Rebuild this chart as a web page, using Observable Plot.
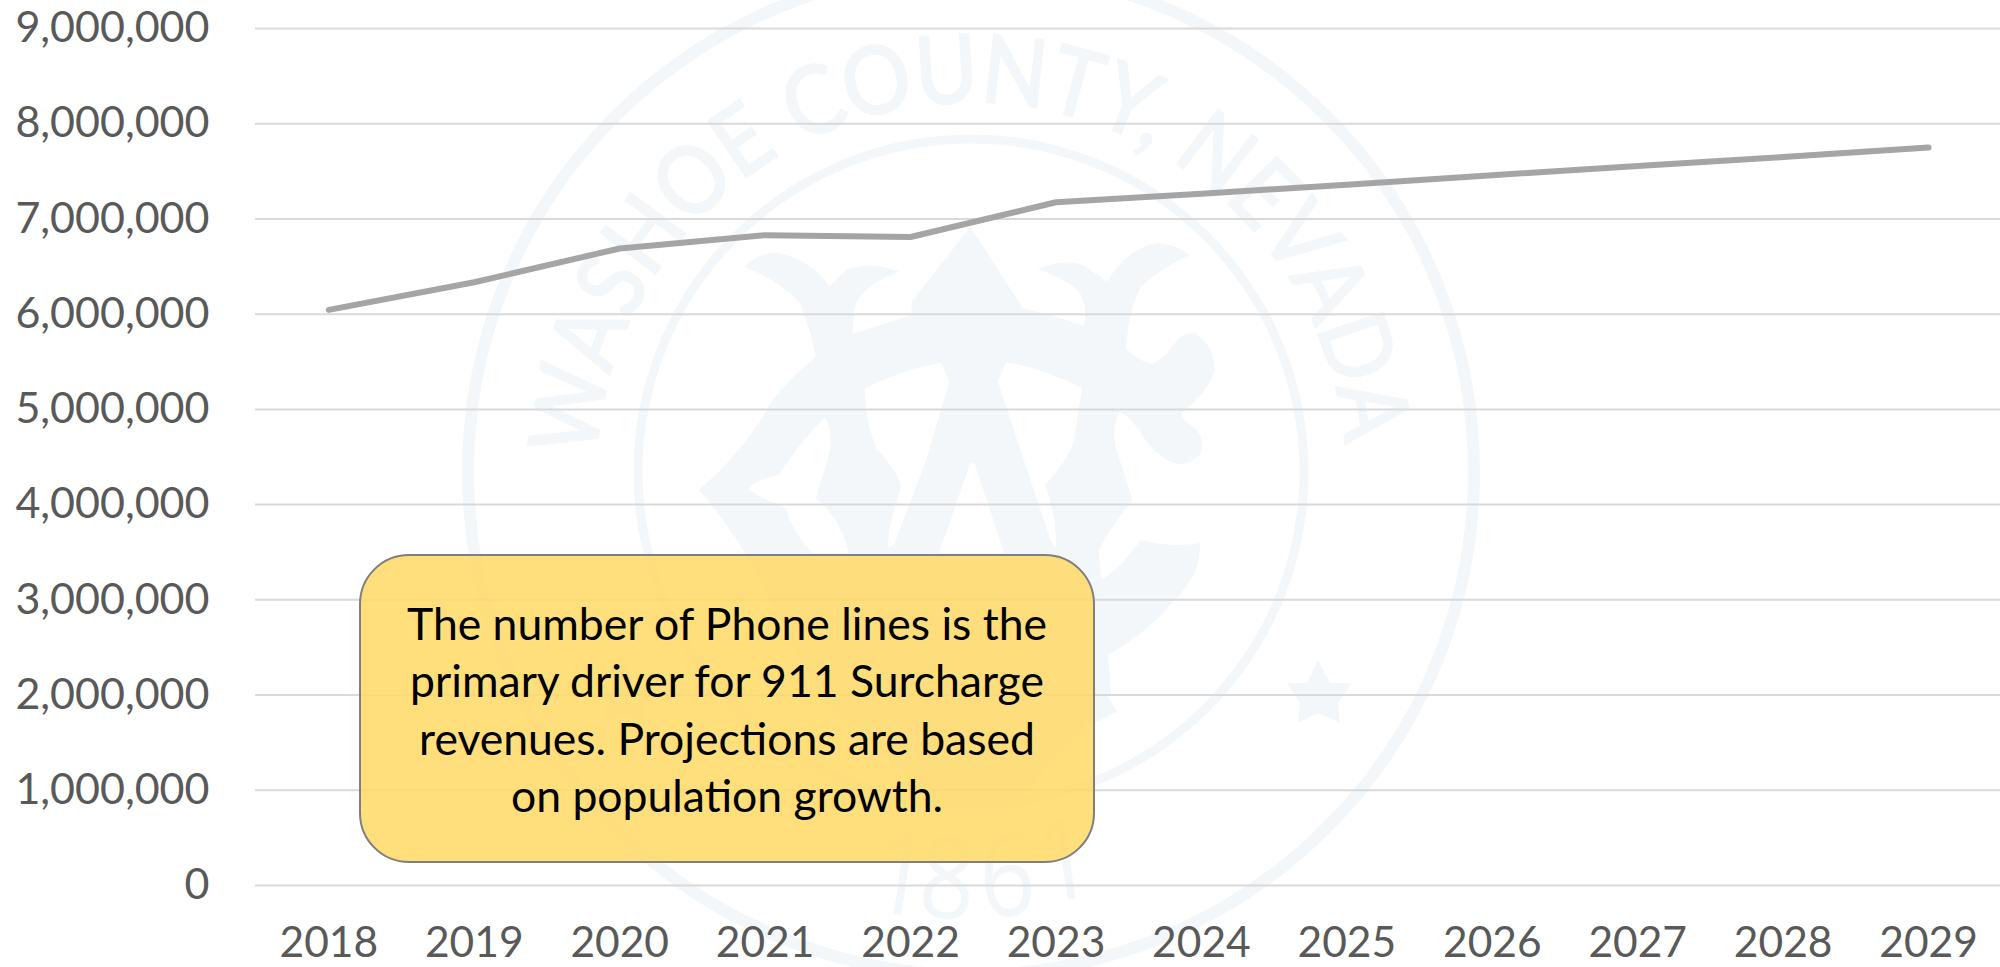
<!DOCTYPE html>
<html>
<head>
<meta charset="utf-8">
<script src="https://cdn.jsdelivr.net/npm/d3@7"></script>
<script src="https://cdn.jsdelivr.net/npm/@observablehq/plot@0.6"></script>
<style>
html,body{margin:0;padding:0;background:#fff;width:2000px;height:967px;overflow:hidden;}
#wrap{position:relative;width:2000px;height:967px;overflow:hidden;font-family:Lato,sans-serif;}
#seal{position:absolute;left:0;top:0;}
#chart{position:absolute;left:0;top:0;}
#chart svg{background:transparent;overflow:visible;}
#note{position:absolute;left:359px;top:554px;width:736px;height:309px;box-sizing:border-box;border:2px solid #7f7f7f;border-radius:50px;background:rgba(255,217,102,.86);color:#000;font:44.5px/57.4px Lato,sans-serif;text-align:center;padding-top:38px;}
</style>
</head>
<body>
<div id="wrap">
<svg id="seal" width="2000" height="967" viewBox="0 0 2000 967" fill="none">
  <defs>
    <path id="topArc" d="M 596.5 458 A 375 375 0 0 1 1345.5 458"/>
  </defs>
  <circle cx="971" cy="472" r="503" stroke="#f3f7fa" stroke-width="12"/>
  <circle cx="971" cy="472" r="333" stroke="#f3f7fa" stroke-width="9"/>
  <text font-family="Lato" font-size="94" fill="#f3f7fa" stroke="#f3f7fa" stroke-width="2.5"><textPath href="#topArc" textLength="1125" lengthAdjust="spacingAndGlyphs">WASHOE COUNTY, NEVADA</textPath></text>
  <text font-family="Open Sans" font-size="114" fill="#f3f7fa" transform="scale(.85,1)" x="1021 1079 1155 1226" y="908 916 918 905" rotate="10 4 -4 -10">1861</text>
  <g fill="#f3f7fa">
    <path d="M1318,660 L1330,683 L1352,683 L1338,703 L1340,723 L1318,713 L1298,723 L1300,703 L1287,683 L1307,683 Z"/>
    <path d="M624,660 L636,683 L658,683 L644,703 L646,723 L624,713 L604,723 L606,703 L593,683 L613,683 Z"/>
    <path transform="translate(640,220) scale(.4209,.3333)" fill-rule="evenodd" d="
      M785,20 L910,265 Q980,285 1055,318 Q1065,250 1040,210 Q1000,170 945,148 Q1010,110 1060,140 L1110,185 Q1160,80 1230,70 Q1280,75 1305,105 Q1230,150 1190,200 Q1160,270 1155,385 Q1180,420 1215,432 Q1245,420 1270,370 Q1290,335 1320,340 Q1365,380 1365,450 Q1355,510 1285,580 Q1290,605 1320,625 Q1345,660 1330,705 Q1300,740 1270,730 Q1225,710 1190,640 Q1165,590 1140,575 Q1120,620 1130,680 L1170,840 Q1130,900 1090,990
      L1100,1150 L1120,1420 L900,1740 L700,1740 L420,1420 L250,1000 Q190,880 140,810 Q250,690 310,550 Q350,480 418,410 L405,340 L380,250 Q330,180 248,140 Q270,105 320,98 Q400,110 450,200 L490,150 Q550,120 615,155 Q530,195 510,260 L505,342 L645,285 L645,245 Z
      M535,505 Q620,450 715,428 L735,485 L680,720 L605,970 L590,985 Q585,940 620,800 Q610,750 565,690 Q535,620 535,505 Z
      M870,427 Q960,445 1050,505 L1030,670 Q1010,730 962,795 Q990,880 988,985 L975,960 L850,485 Z
      M440,592 Q460,640 450,700 L418,835 Q480,900 495,1000 L410,1000 Q370,950 345,865 Q300,840 258,810 Q270,780 330,765 Q390,650 440,592 Z
      M785,730 L795,730 L865,1000 L710,1000 Z"/>
    <path d="M1141,540 Q1170,548 1200,543 Q1202,575 1170,605 Q1140,640 1090,665 L1117,712 L1090,725 L1040,650 L1040,600 Q1100,590 1125,560 Z"/>
  </g>
</svg>
<div id="chart"></div>
<div id="note">The number of Phone lines is the<br>primary driver for 911 Surcharge<br>revenues. Projections are based<br>on population growth.</div>
</div>
<script>
const years = ["2018","2019","2020","2021","2022","2023","2024","2025","2026","2027","2028","2029"];
const phoneLines = [6045000,6335000,6690000,6830000,6810000,7175000,7265000,7360000,7460000,7555000,7650000,7750000];
const yTicks = [0,1000000,2000000,3000000,4000000,5000000,6000000,7000000,8000000,9000000];
const rows = years.map((year,i)=>({year,lines:phoneLines[i]}));

const chart = Plot.plot({
  width:2000,
  height:967,
  marginLeft:255,
  marginRight:0,
  marginTop:28,
  marginBottom:82,
  style:{background:"transparent",fontFamily:"Lato, sans-serif"},
  x:{type:"band",domain:years,padding:0,round:false,range:[255.6,2000.8],label:null},
  y:{domain:[0,9000000],label:null},
  marks:[
    Plot.gridY(yTicks,{stroke:"#d9d9d9",strokeOpacity:1,strokeWidth:2}),
    Plot.axisY(yTicks,{tickSize:0,tickPadding:46,fontSize:43,fill:"#595959",tickFormat:d3.format(","),label:null}),
    Plot.axisX(years,{tickSize:0,tickPadding:41,fontSize:42.5,fill:"#595959",label:null}),
    Plot.line(rows,{x:"year",y:"lines",stroke:"#a5a5a5",strokeWidth:6,strokeLinecap:"round",strokeLinejoin:"round"})
  ]
});
document.getElementById("chart").appendChild(chart);
</script>
</body>
</html>
